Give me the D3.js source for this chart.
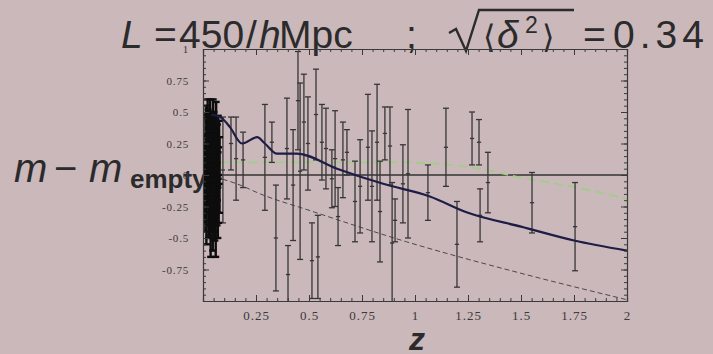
<!DOCTYPE html>
<html>
<head>
<meta charset="utf-8">
<script src="https://cdn.jsdelivr.net/npm/d3@7"></script>
<style>
  html, body { margin: 0; padding: 0; background: #cbb8bb; }
  svg { display: block; }
  text { white-space: pre; }
</style>
</head>
<body>
<svg width="713" height="354"></svg>
<script>
// low redshift supernovae (the dense black clump)
const zLow = [
  0.008, 0.010, 0.012, 0.014, 0.016, 0.018,
  0.020, 0.022, 0.024, 0.026, 0.028, 0.030,
  0.032, 0.034, 0.036, 0.038, 0.040, 0.042,
  0.044, 0.046, 0.048, 0.050, 0.052, 0.054,
  0.056, 0.058, 0.060, 0.062, 0.064, 0.066,
  0.068, 0.070, 0.072, 0.074, 0.076, 0.078,
  0.011, 0.019, 0.027, 0.035, 0.043, 0.051
];
const mLow = [
  0.05, -0.12, 0.18, 0.30, -0.25, 0.10,
  -0.05, 0.35, 0.22, -0.30, 0.00, 0.15,
  -0.18, 0.40, -0.40, 0.08, 0.25, -0.10,
  0.12, -0.35, 0.30, -0.05, 0.20, 0.02,
  -0.22, 0.15, -0.45, 0.28, 0.05, -0.15,
  0.10, -0.30, 0.22, -0.08, 0.18, 0.00,
  -0.20, 0.12, -0.10, 0.05, -0.25, 0.08
];
const eLow = [
  0.20, 0.25, 0.30, 0.25, 0.30, 0.35,
  0.20, 0.25, 0.30, 0.20, 0.30, 0.35,
  0.30, 0.20, 0.25, 0.30, 0.25, 0.35,
  0.30, 0.25, 0.30, 0.40, 0.30, 0.35,
  0.30, 0.25, 0.20, 0.30, 0.30, 0.25,
  0.30, 0.20, 0.25, 0.30, 0.25, 0.30,
  0.25, 0.20, 0.30, 0.25, 0.20, 0.30
];

// intermediate and high redshift supernovae
const zHigh = [
  0.094, 0.132, 0.156, 0.189, 0.292, 0.325,
  0.344, 0.396, 0.401, 0.425, 0.448, 0.458,
  0.476, 0.495, 0.514, 0.533, 0.542, 0.561,
  0.580, 0.608, 0.623, 0.637, 0.660, 0.679,
  0.717, 0.741, 0.778, 0.797, 0.821, 0.835,
  0.858, 0.882, 0.892, 0.906, 0.943, 0.967,
  1.061, 1.146, 1.198, 1.269, 1.302, 1.307,
  1.344, 1.552, 1.755
];
const mHigh = [
  0.04, 0.25, 0.13, 0.12, 0.14, 0.26,
  -0.50, 0.21, -0.79, -0.08, 0.59, 0.03,
  0.42, 0.25, -0.68, 0.48, -0.65, 0.26,
  0.21, -0.03, 0.13, -0.33, 0.12, 0.18,
  -0.21, -0.09, 0.22, -0.09, 0.26, -0.29,
  0.33, 0.23, -0.54, -0.36, -0.07, 0.01,
  -0.14, 0.22, -0.55, 0.29, 0.26, -0.32,
  -0.06, -0.22, -0.41
];
const eHigh = [
  0.42, 0.21, 0.33, 0.22, 0.42, 0.16,
  0.42, 0.40, 0.23, 0.44, 0.39, 0.70,
  0.38, 0.37, 0.30, 0.36, 0.33, 0.30,
  0.32, 0.23, 0.38, 0.23, 0.30, 0.18,
  0.32, 0.37, 0.42, 0.44, 0.46, 0.40,
  0.21, 0.31, 0.48, 0.17, 0.31, 0.51,
  0.22, 0.31, 0.34, 0.21, 0.18, 0.21,
  0.24, 0.24, 0.35
];

// model curves
const blueZ = [0.04, 0.09, 0.127, 0.184, 0.255, 0.292, 0.349, 0.443, 0.632, 0.85, 1.07, 1.25, 1.5, 1.75, 2.0];
const blueM = [0.48, 0.45, 0.38, 0.25, 0.30, 0.25, 0.17, 0.17, 0.05, -0.07, -0.17, -0.30, -0.41, -0.52, -0.60];
const greenZ = [0.08, 0.3, 0.6, 0.9, 1.1, 1.3, 1.5, 1.7, 1.85, 2.0];
const greenM = [0.10, 0.10, 0.10, 0.10, 0.09, 0.05, -0.02, -0.08, -0.13, -0.19];
const grayZ = [0.02, 0.175, 0.27, 0.5, 0.96, 1.5, 2.0];
const grayM = [0.0, -0.08, -0.15, -0.28, -0.53, -0.78, -0.99];

const xTicks = [0.25, 0.5, 0.75, 1, 1.25, 1.5, 1.75, 2];
const xTickLabels = ["0.25", "0.5", "0.75", "1", "1.25", "1.5", "1.75", "2"];
const yTicks = [-0.75, -0.5, -0.25, 0, 0.25, 0.5, 0.75, 1];
const yTickLabels = ["-0.75", "-0.5", "-0.25", "0", "0.25", "0.5", "0.75", "1"];

const svg = d3.select("svg");
const x = d3.scaleLinear().domain([0, 2]).range([203, 627]);
const y = d3.scaleLinear().domain([-1, 1]).range([301, 49]);
const ink = "#2b2b2b";
const sans = "Liberation Sans, Arial, sans-serif";

// y label (drawn first, the clump covers part of it)
const yl = svg.append("text").attr("y", 182).attr("fill", ink).attr("font-family", sans);
yl.append("tspan").attr("x", 14).attr("font-size", 40).attr("font-style", "italic").text("m");
yl.append("tspan").attr("x", 54).attr("font-size", 40).text("\u2212");
yl.append("tspan").attr("x", 89).attr("font-size", 40).attr("font-style", "italic").text("m");
yl.append("tspan").attr("x", 130).attr("dy", 6).attr("font-size", 26).attr("font-weight", "bold").text("empty");

// title
const tt = svg.append("text").attr("y", 48).attr("fill", ink)
  .attr("font-family", sans).attr("font-size", 39);
tt.append("tspan").attr("x", 121).attr("font-style", "italic").text("L");
tt.append("tspan").attr("x", 154).text("=");
tt.append("tspan").attr("x", 179).text("450");
tt.append("tspan").attr("x", 246).text("/");
tt.append("tspan").attr("x", 259).attr("font-style", "italic").text("h");
tt.append("tspan").attr("x", 279).text("Mpc");
tt.append("tspan").attr("x", 406).text(";");
tt.append("tspan").attr("x", 483).attr("font-family", "DejaVu Sans").attr("font-size", 32).text("\u27E8");
tt.append("tspan").attr("x", 497).attr("font-style", "italic").text("\u03B4");
tt.append("tspan").attr("x", 525).attr("dy", -15).attr("font-size", 23).text("2");
tt.append("tspan").attr("x", 542).attr("dy", 15).attr("font-family", "DejaVu Sans").attr("font-size", 32).text("\u27E9");
tt.append("tspan").attr("x", 583).text("=");
tt.append("tspan").attr("x", 613).attr("letter-spacing", 5).text("0.34");
// radical sign with its bar
svg.append("path")
  .attr("d", "M449,33 L456,29 L466,51 L479,10 L574,10")
  .attr("fill", "none").attr("stroke", ink).attr("stroke-width", 2.4);

// clip
svg.append("clipPath").attr("id", "plot").append("rect")
  .attr("x", x(0)).attr("y", y(1)).attr("width", x(2) - x(0)).attr("height", y(-1) - y(1));
const plot = svg.append("g").attr("clip-path", "url(#plot)");

// zero line
plot.append("line").attr("x1", x(0)).attr("x2", x(2)).attr("y1", y(0)).attr("y2", y(0))
  .attr("stroke", "#333").attr("stroke-width", 1.3);

const line = d3.line().x(d => x(d[0])).y(d => y(d[1])).curve(d3.curveMonotoneX);

plot.append("path").datum(d3.zip(grayZ, grayM)).attr("d", line)
  .attr("fill", "none").attr("stroke", "#4a4a4a").attr("stroke-width", 1)
  .attr("stroke-dasharray", "5,3");
plot.append("path").datum(d3.zip(greenZ, greenM)).attr("d", line)
  .attr("fill", "none").attr("stroke", "#9fcf86").attr("stroke-width", 1.8)
  .attr("stroke-dasharray", "9,5");

// error bars
function errorBars(zs, ms, es, color, width, cap) {
  const pts = d3.zip(zs, ms, es);
  const g = plot.append("g").attr("stroke", color).attr("stroke-width", width);
  g.selectAll(".bar").data(pts).join("line").attr("class", "bar")
    .attr("x1", d => x(d[0])).attr("x2", d => x(d[0]))
    .attr("y1", d => y(d[1] + d[2])).attr("y2", d => y(d[1] - d[2]));
  g.selectAll(".top").data(pts).join("line").attr("class", "top")
    .attr("x1", d => x(d[0]) - cap).attr("x2", d => x(d[0]) + cap)
    .attr("y1", d => y(d[1] + d[2])).attr("y2", d => y(d[1] + d[2]));
  g.selectAll(".bot").data(pts).join("line").attr("class", "bot")
    .attr("x1", d => x(d[0]) - cap).attr("x2", d => x(d[0]) + cap)
    .attr("y1", d => y(d[1] - d[2])).attr("y2", d => y(d[1] - d[2]));
  g.selectAll(".mid").data(pts).join("line").attr("class", "mid")
    .attr("x1", d => x(d[0]) - cap * 0.7).attr("x2", d => x(d[0]) + cap * 0.7)
    .attr("y1", d => y(d[1])).attr("y2", d => y(d[1]));
}
errorBars(zHigh, mHigh, eHigh, "#363636", 1.3, 3);
errorBars(zLow, mLow, eLow, "#0d0d0d", 2.4, 3.5);

plot.append("path").datum(d3.zip(blueZ, blueM)).attr("d", line)
  .attr("fill", "none").attr("stroke", "#1e1d45").attr("stroke-width", 2.2);

// frame with inward ticks (major and minor)
const minorX = d3.range(0, 2.001, 0.05);
const minorY = d3.range(-1, 1.001, 0.05);
const majorX = d3.range(0, 2.001, 0.25);
const majorY = d3.range(-1, 1.001, 0.25);
function tickAxis(axis, tr, vals, size) {
  const g = svg.append("g").attr("transform", tr)
    .call(axis.tickValues(vals).tickSize(-size).tickFormat(""));
  g.select(".domain").attr("stroke", "#3a3a3a").attr("stroke-width", 1.1);
  g.selectAll(".tick line").attr("stroke", "#3a3a3a");
  return g;
}
tickAxis(d3.axisBottom(x), `translate(0,${y(-1)})`, minorX, 3);
tickAxis(d3.axisBottom(x), `translate(0,${y(-1)})`, majorX, 6);
tickAxis(d3.axisTop(x), `translate(0,${y(1)})`, minorX, 3);
tickAxis(d3.axisTop(x), `translate(0,${y(1)})`, majorX, 6);
tickAxis(d3.axisLeft(y), `translate(${x(0)},0)`, minorY, 3);
tickAxis(d3.axisLeft(y), `translate(${x(0)},0)`, majorY, 6);
tickAxis(d3.axisRight(y), `translate(${x(2)},0)`, minorY, 3);
tickAxis(d3.axisRight(y), `translate(${x(2)},0)`, majorY, 6);

// tick labels
svg.append("g").attr("transform", `translate(0,${y(-1)})`)
  .call(d3.axisBottom(x).tickValues(xTicks).tickSize(0).tickPadding(10)
    .tickFormat((d, i) => xTickLabels[i]))
  .call(g => g.select(".domain").remove())
  .selectAll("text").attr("font-family", "Liberation Serif, serif").attr("font-size", 13)
  .attr("letter-spacing", 1).attr("fill", "#3a3a3a");
svg.append("g").attr("transform", `translate(${x(0)},0)`)
  .call(d3.axisLeft(y).tickValues(yTicks).tickSize(0).tickPadding(14)
    .tickFormat((d, i) => yTickLabels[i]))
  .call(g => g.select(".domain").remove())
  .selectAll("text").attr("font-family", "Liberation Serif, serif").attr("font-size", 11)
  .attr("letter-spacing", 0.8).attr("fill", "#3a3a3a");

// x label
svg.append("text").attr("x", x(1) + 2).attr("y", 350).attr("text-anchor", "middle")
  .attr("font-family", sans).attr("font-size", 32)
  .attr("font-style", "italic").attr("font-weight", "bold").attr("fill", ink).text("z");
</script>
</body>
</html>
